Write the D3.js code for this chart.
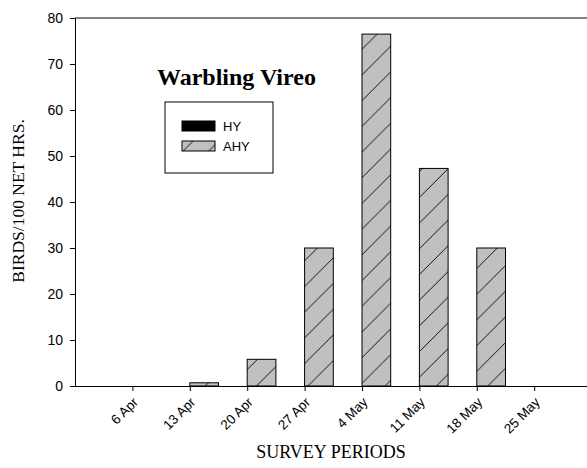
<!DOCTYPE html>
<html>
<head>
<meta charset="utf-8">
<script src="https://cdn.jsdelivr.net/npm/d3@7"></script>
<style>
  body { margin: 0; background: #fff; }
  svg { display: block; }
</style>
</head>
<body>
<div id="chart"></div>
<script>
// survey periods and birds per 100 net hours
const periods = ["6 Apr", "13 Apr", "20 Apr", "27 Apr", "4 May", "11 May", "18 May", "25 May"];
const hyValues = [0, 0, 0, 0, 0, 0, 0, 0];
const ahyValues = [0, 0.7, 5.8, 30, 76.5, 47.3, 30, 0];
const yTicks = [0, 10, 20, 30, 40, 50, 60, 70, 80];
const seriesNames = ["HY", "AHY"];

(function () {
  const width = 587, height = 468;
  const left = 75, right = 587, top = 18, bottom = 386;

  const svg = d3.select("#chart")
    .append("svg")
    .attr("width", width)
    .attr("height", height);

  // diagonal hatch for the AHY bars
  const defs = svg.append("defs");
  const hs = 25.7;
  const pat = defs.append("pattern")
    .attr("id", "hatch")
    .attr("patternUnits", "userSpaceOnUse")
    .attr("width", hs)
    .attr("height", hs);
  pat.append("rect").attr("width", hs).attr("height", hs).attr("fill", "#c0c0c0");
  pat.append("path")
    .attr("d", `M0,${hs} L${hs},0 M-2,2 L2,-2 M${hs - 2},${hs + 2} L${hs + 2},${hs - 2}`)
    .attr("stroke", "#000")
    .attr("stroke-width", 0.9);

  const x = d3.scaleLinear().domain([0, 8.92]).range([left, right]);
  const y = d3.scaleLinear().domain([0, 80]).range([bottom, top]);
  const bw = x(1.5) - x(1);

  // bars: HY left of the tick, AHY right of it
  svg.selectAll(".hy")
    .data(hyValues)
    .enter()
    .append("rect")
    .attr("class", "hy")
    .attr("x", (d, i) => x(i + 1) - bw)
    .attr("y", d => y(d))
    .attr("width", bw)
    .attr("height", d => y(0) - y(d))
    .attr("fill", "#000");

  svg.selectAll(".ahy")
    .data(ahyValues)
    .enter()
    .append("rect")
    .attr("class", "ahy")
    .attr("x", (d, i) => x(i + 1))
    .attr("y", d => y(d))
    .attr("width", bw)
    .attr("height", d => y(0) - y(d))
    .attr("fill", "url(#hatch)")
    .attr("stroke", d => d > 0 ? "#000" : "none")
    .attr("stroke-width", 1);

  // axes
  const yAxis = svg.append("g")
    .attr("transform", `translate(${left},0)`)
    .call(d3.axisLeft(y).tickValues(yTicks).tickSize(5).tickSizeOuter(0).tickPadding(7));
  yAxis.selectAll("text")
    .attr("font-family", "Liberation Sans, Arial, sans-serif")
    .attr("font-size", 14)
    .attr("fill", "#000");

  const xAxis = svg.append("g")
    .attr("transform", `translate(0,${bottom})`)
    .call(d3.axisBottom(x).tickValues(d3.range(1, periods.length + 1)).tickSize(5).tickSizeOuter(0)
      .tickFormat(d => periods[d - 1]));
  xAxis.selectAll("text")
    .attr("font-family", "Liberation Sans, Arial, sans-serif")
    .attr("font-size", 13.5)
    .attr("fill", "#000")
    .attr("text-anchor", "end")
    .attr("x", 0)
    .attr("y", 0)
    .attr("dy", 0)
    .attr("transform", "translate(6,17) rotate(-45)");

  svg.selectAll(".domain, .tick line").attr("stroke", "#000").attr("stroke-width", 1);

  // top frame line
  svg.append("line")
    .attr("x1", left).attr("x2", right)
    .attr("y1", top).attr("y2", top)
    .attr("stroke", "#000");

  // axis titles
  svg.append("text")
    .attr("x", (left + right) / 2)
    .attr("y", 458)
    .attr("text-anchor", "middle")
    .attr("font-family", "Liberation Serif, Times New Roman, serif")
    .attr("font-size", 18)
    .text("SURVEY PERIODS");

  svg.append("text")
    .attr("transform", "translate(24,201) rotate(-90)")
    .attr("text-anchor", "middle")
    .attr("font-family", "Liberation Serif, Times New Roman, serif")
    .attr("font-size", 17.5)
    .text("BIRDS/100 NET HRS.");

  // title
  svg.append("text")
    .attr("x", 157)
    .attr("y", 85)
    .attr("font-family", "Liberation Serif, Times New Roman, serif")
    .attr("font-weight", "bold")
    .attr("font-size", 24)
    .text("Warbling Vireo");

  // legend
  const lg = svg.append("g");
  lg.append("rect")
    .attr("x", 165).attr("y", 102)
    .attr("width", 108).attr("height", 71)
    .attr("fill", "#fff")
    .attr("stroke", "#000");
  seriesNames.forEach((name, i) => {
    lg.append("rect")
      .attr("x", 182).attr("y", 121 + i * 20)
      .attr("width", 33).attr("height", 10)
      .attr("fill", i === 0 ? "#000" : "url(#hatch)")
      .attr("stroke", "#000");
    lg.append("text")
      .attr("x", 223).attr("y", 130.5 + i * 20)
      .attr("font-family", "Liberation Sans, Arial, sans-serif")
      .attr("font-size", 13)
      .text(name);
  });
})();
</script>
</body>
</html>
